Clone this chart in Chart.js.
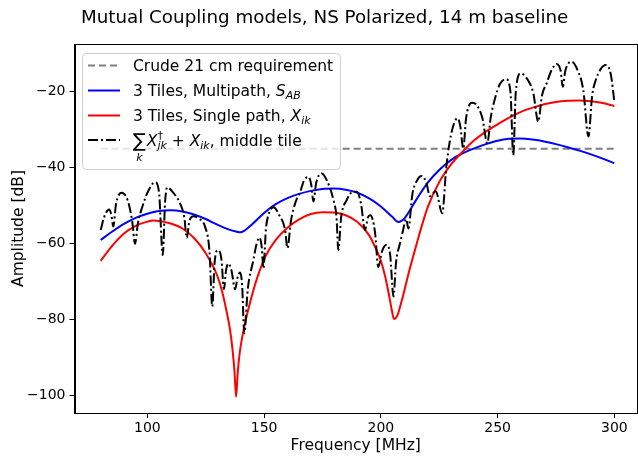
<!DOCTYPE html>
<html>
<head>
<meta charset="utf-8">
<script src="https://cdn.jsdelivr.net/npm/chart.js@4.4.1/dist/chart.umd.min.js"></script>
<style>
  html, body { margin: 0; padding: 0; background: #fff; }
  #wrap { width: 638px; height: 458px; }
</style>
</head>
<body>
<div id="wrap"><canvas id="chart" width="638" height="458"></canvas></div>
<script>
// === DATA ===
const xTicks = [100, 150, 200, 250, 300];
const yTicks = [-100, -80, -60, -40, -20];

// crude 21 cm requirement
const reqFreq = [80, 300];
const reqAmp = [-35, -35];

// 3 tiles, multipath S_AB
const multiFreq = [80, 85, 90, 95, 100, 105, 110, 115, 120, 125, 130, 135, 138, 140, 142, 145, 150, 155, 160, 165,
  170, 175, 180, 185, 190, 195, 200, 205, 207.5, 210, 215, 220, 225, 230, 235, 240, 245, 250, 255, 260,
  265, 270, 275, 280, 285, 290, 295, 300];
const multiAmp = [-59.0, -56.8, -54.8, -53.2, -52.1, -51.4, -51.2, -51.5, -52.3, -53.5, -55.0, -56.3, -56.8, -57.0, -56.4, -54.8, -51.9, -49.6, -48.0, -46.9,
  -46.1, -45.6, -45.5, -45.8, -46.6, -48.1, -50.2, -53.0, -54.3, -53.4, -48.6, -44.0, -40.6, -38.0, -36.2, -34.9, -33.8, -32.9, -32.4, -32.3,
  -32.6, -33.1, -33.8, -34.6, -35.5, -36.5, -37.6, -38.8];

// 3 tiles, single path X_ik
const singleFreq = [80, 85, 90, 95, 100, 102.5, 105, 110, 115, 120, 125, 130, 132, 134, 135.5, 136.5, 137.3, 138, 138.7, 139.5,
  140.5, 142, 144, 146, 148, 150.5, 155, 160, 165, 170, 175, 180, 185, 190, 195, 198, 200, 202, 203.5, 204.7,
  205.6, 207, 208.5, 210, 212, 214, 216.5, 220, 225, 230, 235, 240, 245, 250, 255, 260, 265, 270, 275, 280,
  285, 290, 295, 300];
const singleAmp = [-64.5, -60.5, -57.3, -55.3, -54.2, -53.9, -54.0, -54.7, -56.0, -58.5, -62.5, -68.5, -72.5, -78.0, -83.0, -88.0, -93.5, -100.3, -94.0, -89.0,
  -85.0, -80.5, -75.5, -71.0, -67.3, -63.4, -59.0, -55.8, -53.6, -52.2, -51.7, -51.8, -52.5, -54.3, -57.8, -61.5, -64.5, -69.0, -73.5, -77.5,
  -79.8, -79.0, -76.0, -72.5, -67.5, -63.0, -57.5, -50.5, -43.8, -39.2, -35.8, -32.8, -30.5, -28.6, -26.8, -25.3, -24.2, -23.3, -22.7, -22.4,
  -22.3, -22.5, -23.0, -23.8];

// sum over k of X_jk^dagger + X_ik, middle tile
const tileFreq = [80, 81.5, 83.6, 84.6, 85.4, 86.6, 89, 91.5, 93.5, 94.7, 96, 98, 100.5, 103.3, 105, 106.6, 107.6, 108.5, 111, 114,
  115.8, 116.9, 118, 119.7, 122, 124.7, 126.6, 127.8, 128.8, 130.2, 131.7, 132.8, 133.7, 134.7, 136, 137.6, 138.6, 139.7, 140.6, 141.5,
  143, 145.4, 146.8, 148, 149, 149.7, 150.8, 151.8, 154, 156.5, 159, 160, 161.5, 163.5, 165.4, 167, 169, 170.2, 171.1, 172.3,
  174.7, 177, 179.7, 181, 181.8, 183, 185.4, 187.5, 189.7, 191.5, 193.2, 194.5, 195.5, 197.5, 198.9, 200.5, 202.5, 204, 205.4, 206.5,
  208.2, 209.5, 210.8, 211.8, 213.5, 215.4, 217.5, 219.5, 221, 223.5, 226.3, 228, 230, 232.8, 234, 235.3, 236.5, 238.9, 241, 243.5,
  245.6, 247, 249, 251, 253.6, 255.5, 256.7, 257.8, 259.9, 262.5, 265.3, 267.4, 269, 271, 273, 275.3, 277, 277.9, 279, 281.7,
  284, 286.7, 288.9, 290.5, 292, 294, 296.4, 298.5, 300];
const tileAmp = [-56.4, -53.0, -51.0, -52.5, -55.5, -49.5, -46.6, -48.5, -54.0, -60.0, -54.5, -50.0, -46.0, -43.8, -46.5, -63.0, -49.0, -45.2, -46.5, -49.4,
  -53.0, -58.5, -54.0, -52.8, -53.4, -55.5, -62.0, -76.5, -65.0, -61.7, -64.0, -72.0, -67.0, -65.2, -67.0, -72.0, -69.0, -67.6, -71.0, -83.6,
  -72.0, -64.3, -60.0, -58.4, -61.0, -66.5, -56.0, -52.5, -50.4, -52.5, -56.4, -61.2, -54.0, -49.0, -46.5, -43.5, -42.4, -44.5, -48.9, -44.0,
  -41.5, -43.5, -48.5, -53.0, -61.7, -53.0, -48.5, -46.5, -46.3, -49.5, -56.4, -53.0, -52.5, -57.0, -66.1, -62.0, -60.3, -63.0, -73.9, -65.0,
  -59.9, -56.5, -53.5, -56.0, -47.0, -43.5, -42.2, -44.0, -47.5, -46.2, -52.0, -40.0, -31.5, -27.0, -29.0, -35.0, -27.0, -22.9, -23.5, -27.0,
  -33.6, -27.0, -21.5, -18.0, -16.7, -20.0, -36.7, -20.0, -15.2, -16.5, -20.4, -27.9, -21.0, -17.8, -14.5, -12.7, -14.5, -18.7, -14.5, -12.1,
  -14.0, -19.6, -31.8, -21.0, -17.0, -14.2, -13.0, -15.5, -22.6];

const FONT = '"DejaVu Sans", "Liberation Sans", sans-serif';

function toPoints(xs, ys) {
  return xs.map((x, i) => ({ x: x, y: ys[i] }));
}

function minusLabel(v) {
  return v < 0 ? '\u2212' + Math.abs(v) : String(v);
}

// === TEXT HELPERS ===
// draws a list of text runs left to right, returns the end x
function drawRuns(ctx, x, y, runs) {
  runs.forEach(r => {
    ctx.font = r.font;
    ctx.fillText(r.t, x, y + (r.dy || 0));
    x += ctx.measureText(r.t).width + (r.dx || 0);
  });
  return x;
}

// === TITLE, FRAME AND LEGEND ===
const decorations = {
  id: 'decorations',
  afterDraw(chart) {
    const ctx = chart.ctx;
    const a = chart.chartArea;
    ctx.save();

    // title
    ctx.fillStyle = '#000';
    ctx.font = '18.3px ' + FONT;
    ctx.textAlign = 'center';
    ctx.textBaseline = 'alphabetic';
    ctx.fillText('Mutual Coupling models, NS Polarized, 14 m baseline', 324.6, 23);

    // frame
    ctx.strokeStyle = '#000';
    ctx.lineWidth = 1;
    ctx.setLineDash([]);
    ctx.strokeRect(Math.round(a.left) + 0.5, Math.round(a.top) + 0.5,
      Math.round(a.right - a.left) - 1, Math.round(a.bottom - a.top));

    // legend box
    const bx = 82, by = 53, bw = 258, bh = 116;
    ctx.beginPath();
    ctx.roundRect(bx + 0.5, by + 0.5, bw, bh, 4);
    ctx.fillStyle = 'rgba(255,255,255,0.8)';
    ctx.fill();
    ctx.strokeStyle = '#d0d0d0';
    ctx.stroke();

    const rows = [65.5, 90.5, 115.5, 140];
    const handles = [
      { color: '#808080', dash: [7, 4] },
      { color: '#0000ff', dash: [] },
      { color: '#ff0000', dash: [] },
      { color: '#000000', dash: [10, 3, 2, 3] }
    ];
    handles.forEach((h, i) => {
      ctx.beginPath();
      ctx.strokeStyle = h.color;
      ctx.lineWidth = 2;
      ctx.setLineDash(h.dash);
      ctx.moveTo(88, rows[i]);
      ctx.lineTo(120, rows[i]);
      ctx.stroke();
    });
    ctx.setLineDash([]);

    const base = '15.5px ' + FONT;
    const ital = 'italic 15.5px ' + FONT;
    const small = 'italic 11px ' + FONT;
    const tx = 133;
    ctx.fillStyle = '#000';
    ctx.textAlign = 'left';
    ctx.textBaseline = 'alphabetic';

    drawRuns(ctx, tx, rows[0] + 5.5, [{ t: 'Crude 21 cm requirement', font: base }]);
    drawRuns(ctx, tx, rows[1] + 5.5, [
      { t: '3 Tiles, Multipath, ', font: base },
      { t: 'S', font: ital },
      { t: 'AB', font: small, dy: 3 }
    ]);
    drawRuns(ctx, tx, rows[2] + 5.5, [
      { t: '3 Tiles, Single path, ', font: base },
      { t: 'X', font: ital },
      { t: 'ik', font: small, dy: 3 }
    ]);

    // sum with k underneath
    const y4 = rows[3] + 5.5;
    ctx.font = '19px ' + FONT;
    const sumW = ctx.measureText('\u2211').width;
    ctx.fillText('\u2211', tx, y4 + 1);
    ctx.font = small;
    const kW = ctx.measureText('k').width;
    ctx.fillText('k', tx + (sumW - kW) / 2, y4 + 15);
    let x = tx + sumW + 1;
    ctx.font = ital;
    ctx.fillText('X', x, y4);
    x += ctx.measureText('X').width;
    ctx.font = '11px ' + FONT;
    ctx.fillText('\u2020', x, y4 - 7);
    ctx.font = small;
    ctx.fillText('jk', x, y4 + 3.5);
    x += ctx.measureText('jk').width;
    drawRuns(ctx, x, y4, [
      { t: ' + ', font: base },
      { t: 'X', font: ital },
      { t: 'ik', font: small, dy: 3.5 },
      { t: ', middle tile', font: base }
    ]);

    ctx.restore();
  }
};

// === CHART ===
new Chart(document.getElementById('chart').getContext('2d'), {
  type: 'line',
  data: {
    datasets: [
      {
        label: 'Crude 21 cm requirement',
        data: toPoints(reqFreq, reqAmp),
        borderColor: '#808080',
        borderDash: [7, 4],
        order: 3
      },
      {
        label: '3 Tiles, Multipath, S_AB',
        data: toPoints(multiFreq, multiAmp),
        borderColor: '#0000ff',
        cubicInterpolationMode: 'monotone',
        order: 2
      },
      {
        label: '3 Tiles, Single path, X_ik',
        data: toPoints(singleFreq, singleAmp),
        borderColor: '#ff0000',
        cubicInterpolationMode: 'monotone',
        order: 1
      },
      {
        label: 'Sum X_jk + X_ik, middle tile',
        data: toPoints(tileFreq, tileAmp),
        borderColor: '#000000',
        borderDash: [10, 3, 2, 3],
        cubicInterpolationMode: 'monotone',
        order: 0
      }
    ]
  },
  options: {
    responsive: false,
    devicePixelRatio: 1,
    animation: false,
    events: [],
    layout: { padding: { top: 44, right: 1, left: 0, bottom: 0 } },
    elements: {
      point: { radius: 0 },
      line: { borderWidth: 2, tension: 0, fill: false }
    },
    plugins: {
      legend: { display: false },
      title: { display: false },
      tooltip: { enabled: false }
    },
    scales: {
      x: {
        type: 'linear',
        min: 68.8,
        max: 309.7,
        afterFit: s => { s.height = 45; },
        afterBuildTicks: s => { s.ticks = xTicks.map(v => ({ value: v })); },
        grid: { drawOnChartArea: false, drawTicks: true, tickLength: 5, color: '#000' },
        border: { display: true, color: '#000' },
        ticks: { color: '#000', padding: 2, font: { family: FONT, size: 14 }, maxRotation: 0 },
        title: {
          display: true,
          text: 'Frequency [MHz]',
          color: '#000',
          font: { family: FONT, size: 15.5 },
          padding: { top: 0, bottom: 3 }
        }
      },
      y: {
        type: 'linear',
        min: -104.55,
        max: -7.45,
        afterFit: s => { s.width = 74.5; },
        afterBuildTicks: s => { s.ticks = yTicks.map(v => ({ value: v })); },
        grid: { drawOnChartArea: false, drawTicks: true, tickLength: 5, color: '#000' },
        border: { display: true, color: '#000' },
        ticks: { color: '#000', padding: 4, font: { family: FONT, size: 14 }, callback: minusLabel },
        title: {
          display: true,
          text: 'Amplitude [dB]',
          color: '#000',
          font: { family: FONT, size: 15.5 },
          padding: { top: 10, bottom: 0 }
        }
      }
    }
  },
  plugins: [decorations]
});
</script>
</body>
</html>
